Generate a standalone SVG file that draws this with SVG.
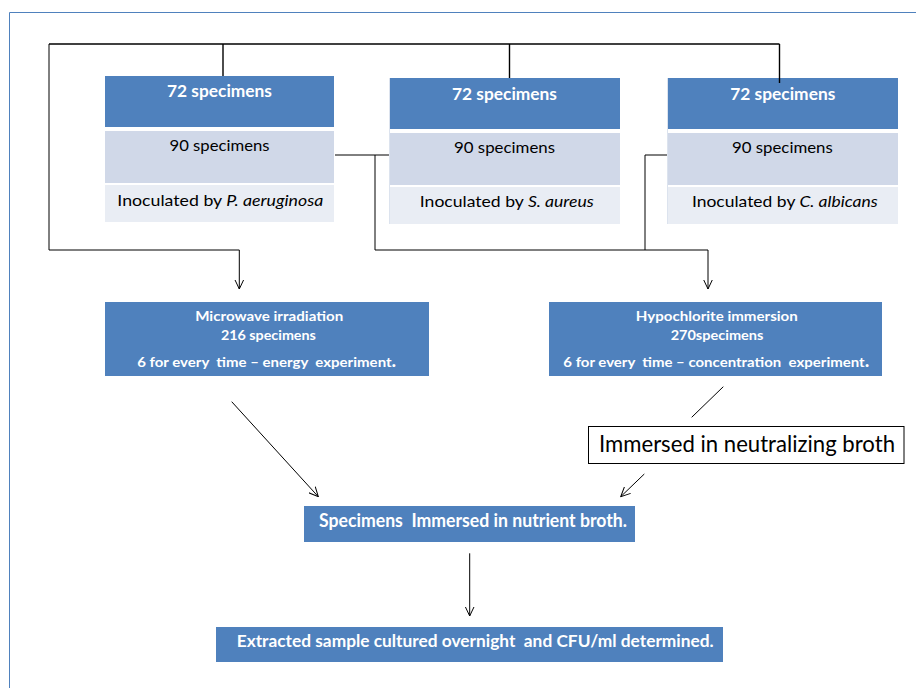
<svg xmlns="http://www.w3.org/2000/svg" width="916" height="688" viewBox="0 0 916 688">
<style>
.bg{fill:#ffffff}
.blue{fill:#4F81BD}
.gray{fill:#D0D8E8}
.light{fill:#E9EDF4}
.edge{stroke:#DCE3EE;stroke-width:1;fill:none}
.t{font-family:Lato,"Open Sans","Liberation Sans",sans-serif;text-anchor:middle}
.tl{font-family:Lato,"Open Sans","Liberation Sans",sans-serif;text-anchor:start}
.w{fill:#ffffff;font-weight:bold}
.k{fill:#000000}
.c{fill:none;stroke:#000;stroke-width:1}
.cb{fill:none;stroke:#000;stroke-width:1.4}
</style>
<defs>
<marker id="arr" viewBox="0 0 10 10" refX="9.5" refY="5" markerWidth="10" markerHeight="10" markerUnits="userSpaceOnUse" orient="auto">
<path d="M0,0.5 L9.5,5 L0,9.5" fill="none" stroke="#000" stroke-width="1"/>
</marker>
</defs>
<rect class="bg" x="0" y="0" width="916" height="688"/>
<path d="M9.5,688 V12.5 H916" fill="none" stroke="#4F81BD" stroke-width="1"/>

<g id="node-pa">
<rect class="blue" x="105" y="76" width="229" height="51"/>
<rect class="gray" x="105" y="131" width="229" height="52"/>
<rect class="light" x="105" y="185" width="229" height="37"/>
<text class="t w" x="219.5" y="97.3" font-size="17" textLength="105" lengthAdjust="spacingAndGlyphs">72 specimens</text>
<text class="t k" x="219.5" y="151" font-size="16" textLength="100" lengthAdjust="spacingAndGlyphs">90 specimens</text>
<text class="t k" x="220.3" y="206" font-size="16" textLength="206" lengthAdjust="spacingAndGlyphs">Inoculated by <tspan font-style="italic">P. aeruginosa</tspan></text>
</g>

<g id="node-sa">
<rect class="blue" x="390" y="78" width="230" height="51"/>
<rect class="gray" x="390" y="133" width="230" height="52"/>
<rect class="light" x="390" y="187" width="230" height="37"/>
<line class="edge" x1="389.5" y1="78" x2="389.5" y2="224"/>
<text class="t w" x="504.5" y="99.7" font-size="17" textLength="105" lengthAdjust="spacingAndGlyphs">72 specimens</text>
<text class="t k" x="504.5" y="153.4" font-size="16" textLength="101" lengthAdjust="spacingAndGlyphs">90 specimens</text>
<text class="t k" x="506.8" y="207" font-size="16" textLength="174" lengthAdjust="spacingAndGlyphs">Inoculated by <tspan font-style="italic">S. aureus</tspan></text>
</g>

<g id="node-ca">
<rect class="blue" x="668" y="78" width="230" height="51"/>
<rect class="gray" x="668" y="133" width="230" height="52"/>
<rect class="light" x="668" y="187" width="230" height="37"/>
<line class="edge" x1="667.5" y1="78" x2="667.5" y2="224"/>
<text class="t w" x="782.8" y="99.7" font-size="17" textLength="105" lengthAdjust="spacingAndGlyphs">72 specimens</text>
<text class="t k" x="782.4" y="153.4" font-size="16" textLength="100.7" lengthAdjust="spacingAndGlyphs">90 specimens</text>
<text class="t k" x="784.8" y="207" font-size="16" textLength="185.7" lengthAdjust="spacingAndGlyphs">Inoculated by <tspan font-style="italic">C. albicans</tspan></text>
</g>

<g id="node-microwave">
<rect class="blue" x="105" y="302" width="324" height="74"/>
<text class="t w" x="269.2" y="320.7" font-size="14" textLength="148" lengthAdjust="spacingAndGlyphs">Microwave irradiation</text>
<text class="t w" x="268.4" y="340.2" font-size="14" textLength="95" lengthAdjust="spacingAndGlyphs">216 specimens</text>
<text class="t w" x="266.7" y="367" font-size="14" textLength="259" lengthAdjust="spacingAndGlyphs" xml:space="preserve">6 for every  time – energy  experiment<tspan font-size="18">.</tspan></text>
</g>

<g id="node-hypochlorite">
<rect class="blue" x="549" y="302" width="333" height="74"/>
<text class="t w" x="716.8" y="320.7" font-size="14" textLength="162" lengthAdjust="spacingAndGlyphs">Hypochlorite immersion</text>
<text class="t w" x="717" y="340.2" font-size="14" textLength="92.7" lengthAdjust="spacingAndGlyphs">270specimens</text>
<text class="t w" x="716.3" y="367" font-size="14" textLength="306" lengthAdjust="spacingAndGlyphs" xml:space="preserve">6 for every  time – concentration  experiment<tspan font-size="18">.</tspan></text>
</g>

<g id="node-neutralizing">
<rect x="588.5" y="426.5" width="315.5" height="37" fill="#ffffff" stroke="#000" stroke-width="1"/>
<text class="tl k" x="599" y="452" font-size="23" textLength="296" lengthAdjust="spacingAndGlyphs">Immersed in neutralizing broth</text>
</g>

<g id="node-nutrient">
<rect class="blue" x="304" y="506" width="331" height="36"/>
<text class="tl w" x="319" y="527.3" font-size="18" textLength="308" lengthAdjust="spacingAndGlyphs" xml:space="preserve">Specimens  Immersed in nutrient broth.</text>
</g>

<g id="node-cfu">
<rect class="blue" x="216" y="627" width="507" height="35"/>
<text class="tl w" x="236.7" y="647.3" font-size="17" textLength="477" lengthAdjust="spacingAndGlyphs" xml:space="preserve">Extracted sample cultured overnight  and CFU/ml determined.</text>
</g>

<g id="connectors">
<path class="cb" d="M223,44 V76"/>
<path class="cb" d="M509.5,44 V78"/>
<path class="cb" d="M779.5,44 V83"/>
<path class="cb" d="M49,44 H779.5"/>
<path class="c" d="M49,44 V250 H239.3 V289" marker-end="url(#arr)"/>
<path class="c" d="M335,155 H389"/>
<path class="c" d="M375,155 V250 H708 V289" marker-end="url(#arr)"/>
<path class="c" d="M667,155 H645 V250"/>
<path class="c" d="M231.7,401.7 L318.3,496.7" marker-end="url(#arr)"/>
<path class="c" d="M723.3,386.7 L691.7,417.3"/>
<path class="c" d="M644.3,474 L620.7,496.7" marker-end="url(#arr)"/>
<path class="c" d="M469.7,553.3 V616" marker-end="url(#arr)"/>
</g>
</svg>
